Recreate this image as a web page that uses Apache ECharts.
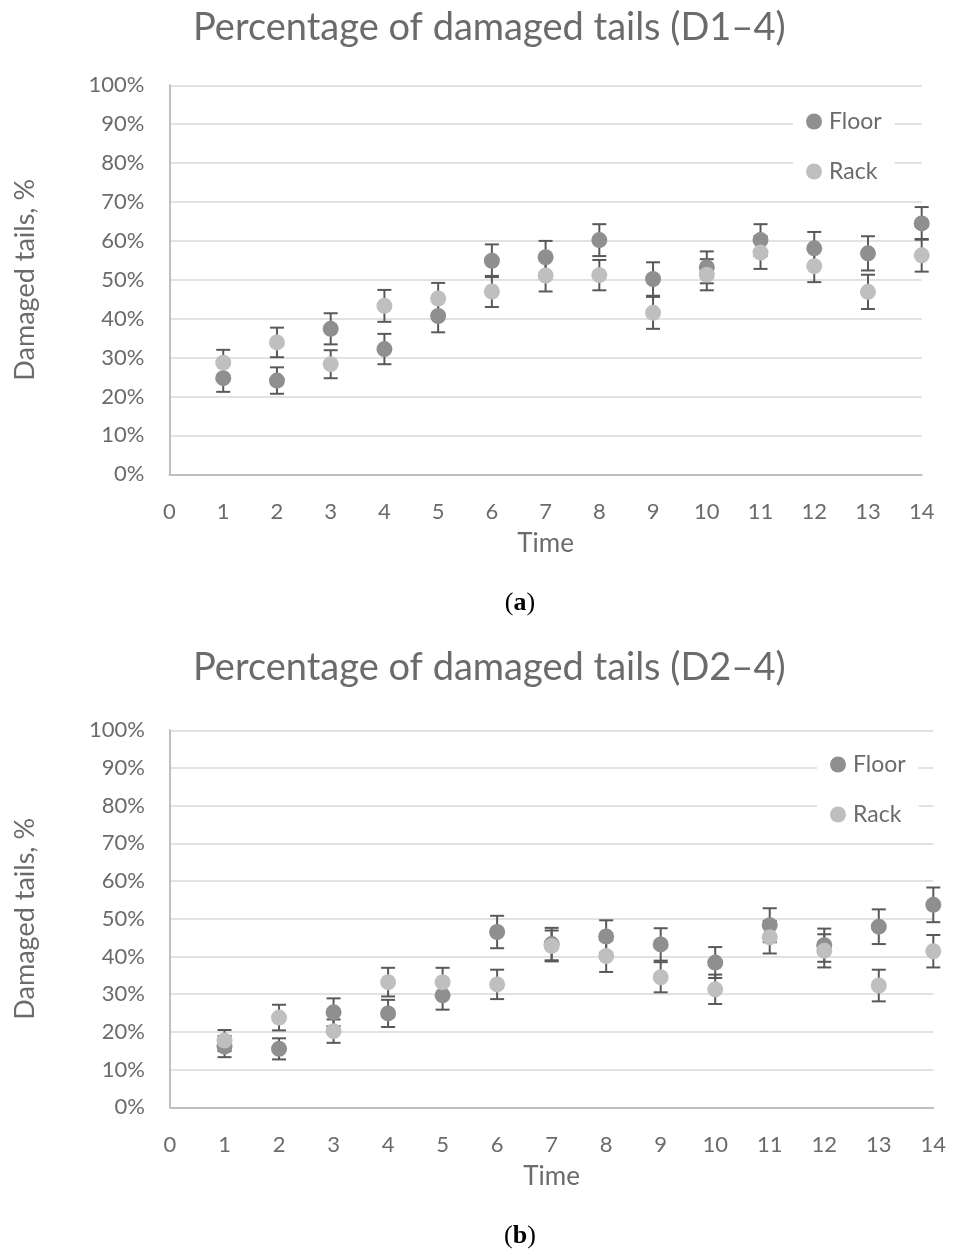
<!DOCTYPE html>
<html>
<head>
<meta charset="utf-8">
<script src="https://cdn.jsdelivr.net/npm/echarts@6/dist/echarts.min.js"></script>
<style>
  html, body { margin: 0; padding: 0; background: #fff; }
  #chart { width: 953px; height: 1252px; }
</style>
</head>
<body>
<div id="chart"></div>
<script>
// Sampling times (x values)
const times = [1, 2, 3, 4, 5, 6, 7, 8, 9, 10, 11, 12, 13, 14];

// Panel (a): D1–4 damaged tails, % with error margins
const floorD1 = [24.7, 24.1, 37.4, 32.2, 40.7, 54.9, 55.8, 60.2, 50.2, 53.2, 60.2, 58.1, 56.8, 64.5];
const floorD1Err = [3.5, 3.4, 4.0, 3.9, 4.2, 4.2, 4.2, 4.1, 4.3, 4.1, 4.1, 4.2, 4.4, 4.2];
const rackD1 = [28.7, 33.9, 28.3, 43.3, 45.2, 47.0, 51.1, 51.2, 41.5, 51.3, 57.0, 53.5, 46.9, 56.3];
const rackD1Err = [3.3, 3.8, 3.6, 4.1, 4.0, 4.0, 4.1, 3.9, 4.1, 4.0, 4.2, 4.1, 4.4, 4.2];

// Panel (b): D2–4 damaged tails, % with error margins
const floorD2 = [16.1, 15.5, 25.2, 24.9, 29.7, 46.5, 43.3, 45.3, 43.2, 38.4, 48.3, 43.0, 47.9, 53.7];
const floorD2Err = [2.8, 2.8, 3.7, 3.6, 3.8, 4.3, 4.3, 4.3, 4.3, 4.1, 4.5, 4.4, 4.6, 4.6];
const rackD2 = [17.7, 23.8, 20.2, 33.2, 33.2, 32.6, 42.8, 40.1, 34.5, 31.3, 45.1, 41.5, 32.3, 41.4];
const rackD2Err = [2.8, 3.4, 3.1, 3.8, 3.8, 3.9, 4.1, 4.2, 4.0, 3.9, 4.3, 4.4, 4.2, 4.3];

const titles = ['Percentage of damaged tails (D1–4)', 'Percentage of damaged tails (D2–4)'];
const panelTags = ['a', 'b'];

const FONT = 'Lato, "Open Sans", sans-serif';
const TEXT = '#6b6b6b';
const FLOOR_COLOR = '#8f8f8f';
const RACK_COLOR = '#bfbfbf';
const ERR_COLOR = '#595959';

const chart = echarts.init(document.getElementById('chart'), null, { renderer: 'canvas' });

function points(vals) {
  return times.map((t, i) => [t, vals[i]]);
}
function ranges(vals, errs) {
  return times.map((t, i) => [t, vals[i] - errs[i], vals[i] + errs[i]]);
}

// Vertical error bar with caps, drawn through the axis scales
function errorBar(params, api) {
  const x = api.value(0);
  const top = api.coord([x, api.value(2)]);
  const bot = api.coord([x, api.value(1)]);
  const cap = 7;
  const st = { stroke: ERR_COLOR, lineWidth: 2 };
  return {
    type: 'group',
    children: [
      { type: 'line', shape: { x1: top[0], y1: top[1], x2: bot[0], y2: bot[1] }, style: st },
      { type: 'line', shape: { x1: top[0] - cap, y1: top[1], x2: top[0] + cap, y2: top[1] }, style: st },
      { type: 'line', shape: { x1: bot[0] - cap, y1: bot[1], x2: bot[0] + cap, y2: bot[1] }, style: st }
    ]
  };
}

const grids = [
  { left: 169.5, right: 31.3, top: 85.3, height: 389 },
  { left: 170, right: 19.7, top: 730.3, height: 377 }
];

function xAxis(idx) {
  return {
    type: 'value', gridIndex: idx, min: 0, max: 14, interval: 1,
    name: 'Time', nameLocation: 'middle', nameGap: 56,
    nameTextStyle: { fontFamily: FONT, fontSize: 26, color: TEXT },
    axisLine: { show: true, lineStyle: { color: '#bfbfbf', width: 2 } },
    axisTick: { show: false },
    splitLine: { show: false },
    axisLabel: { fontFamily: FONT, fontSize: 22, color: TEXT, margin: 27 }
  };
}
function yAxis(idx) {
  return {
    type: 'value', gridIndex: idx, min: 0, max: 100, interval: 10,
    name: 'Damaged tails, %', nameLocation: 'middle', nameGap: 131,
    nameTextStyle: { fontFamily: FONT, fontSize: 27, color: TEXT },
    axisLine: { show: true, lineStyle: { color: '#bfbfbf', width: 2 } },
    axisTick: { show: false },
    splitLine: { show: true, lineStyle: { color: '#d9d9d9', width: 1.5 } },
    axisLabel: { fontFamily: FONT, fontSize: 22, color: TEXT, margin: 25, formatter: '{value}%' }
  };
}

function panelSeries(idx, floor, floorErr, rack, rackErr) {
  return [
    { name: 'Floor error', type: 'custom', xAxisIndex: idx, yAxisIndex: idx, renderItem: errorBar,
      encode: { x: 0, y: [1, 2] }, data: ranges(floor, floorErr), z: 2, silent: true },
    { name: 'Rack error', type: 'custom', xAxisIndex: idx, yAxisIndex: idx, renderItem: errorBar,
      encode: { x: 0, y: [1, 2] }, data: ranges(rack, rackErr), z: 2, silent: true },
    { name: 'Floor', type: 'scatter', xAxisIndex: idx, yAxisIndex: idx, symbol: 'circle', symbolSize: 16,
      itemStyle: { color: FLOOR_COLOR, opacity: 1 }, data: points(floor), z: 3 },
    { name: 'Rack', type: 'scatter', xAxisIndex: idx, yAxisIndex: idx, symbol: 'circle', symbolSize: 16,
      itemStyle: { color: RACK_COLOR, opacity: 1 }, data: points(rack), z: 4 }
  ];
}

function legend(left, top) {
  return {
    data: [{ name: 'Floor', icon: 'circle' }, { name: 'Rack', icon: 'circle' }],
    orient: 'vertical', left: left, top: top,
    itemWidth: 16, itemHeight: 16, itemGap: 27,
    padding: [10, 13, 10, 13],
    backgroundColor: '#ffffff',
    textStyle: { fontFamily: FONT, fontSize: 23, color: TEXT, padding: [0, 0, 0, 2] }
  };
}

function panelTag(tag, cx, cy) {
  return {
    type: 'text', x: cx, y: cy,
    style: {
      text: '(' + '{b|' + tag + '})',
      rich: { b: { fontWeight: 'bold', fontFamily: 'Liberation Serif', fontSize: 26, fill: '#000' } },
      fontFamily: 'Liberation Serif', fontSize: 26, fill: '#000',
      align: 'center', verticalAlign: 'middle'
    }
  };
}

const option = {
  animation: false,
  backgroundColor: '#ffffff',
  title: [
    { text: titles[0], left: 188, top: 4, textStyle: { fontFamily: FONT, fontSize: 38, fontWeight: 'normal', color: TEXT } },
    { text: titles[1], left: 188, top: 644, textStyle: { fontFamily: FONT, fontSize: 38, fontWeight: 'normal', color: TEXT } }
  ],
  legend: [legend(793, 100), legend(817, 743)],
  grid: grids,
  xAxis: [xAxis(0), xAxis(1)],
  yAxis: [yAxis(0), yAxis(1)],
  series: [
    ...panelSeries(0, floorD1, floorD1Err, rackD1, rackD1Err),
    ...panelSeries(1, floorD2, floorD2Err, rackD2, rackD2Err)
  ],
  graphic: [
    panelTag(panelTags[0], 520, 603),
    panelTag(panelTags[1], 520, 1236)
  ]
};

chart.setOption(option);
</script>
</body>
</html>
